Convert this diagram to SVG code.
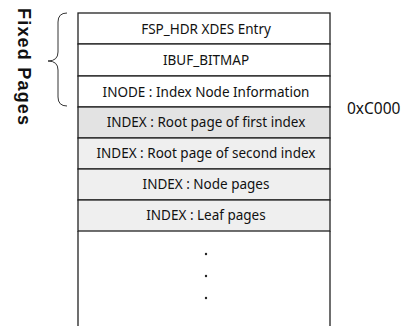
<svg xmlns="http://www.w3.org/2000/svg" width="408" height="326" viewBox="0 0 408 326">
  <style>
    .row { stroke: #222; stroke-width: 1.3; }
    .plain { fill: #ffffff; }
    .idx { fill: #efefef; }
    .idx1 { fill: #e3e3e3; }
    .lbl { font-family: "Noto Sans", "Open Sans", sans-serif; font-size: 13.5px; fill: #111; text-anchor: middle; }
    .side { font-family: "Liberation Sans", Arial, sans-serif; font-weight: bold; font-size: 18px; letter-spacing: 1.2px; fill: #111; }
  </style>
  <rect x="0" y="0" width="408" height="326" fill="#ffffff"/>

  <!-- page stack -->
  <g id="fsp_hdr">
    <rect class="row plain" x="78" y="13" width="252" height="31"/>
    <text class="lbl" x="206" y="34">FSP_HDR XDES Entry</text>
  </g>
  <g id="ibuf_bitmap">
    <rect class="row plain" x="78" y="44" width="252" height="32"/>
    <text class="lbl" x="206" y="65">IBUF_BITMAP</text>
  </g>
  <g id="inode">
    <rect class="row plain" x="78" y="76" width="252" height="31"/>
    <text class="lbl" x="206" y="97">INODE : Index Node Information</text>
  </g>
  <g id="index_root_first">
    <rect class="row idx1" x="78" y="107" width="252" height="31"/>
    <text class="lbl" x="206" y="127">INDEX : Root page of first index</text>
  </g>
  <g id="index_root_second">
    <rect class="row idx" x="78" y="138" width="252" height="31"/>
    <text class="lbl" x="206" y="158">INDEX : Root page of second index</text>
  </g>
  <g id="index_node">
    <rect class="row idx" x="78" y="169" width="252" height="31"/>
    <text class="lbl" x="206" y="189">INDEX : Node pages</text>
  </g>
  <g id="index_leaf">
    <rect class="row idx" x="78" y="200" width="252" height="31"/>
    <text class="lbl" x="206" y="220">INDEX : Leaf pages</text>
  </g>
  <g id="remaining">
    <path class="row" fill="none" d="M78,231 V330 M330,231 V330"/>
    <circle cx="206" cy="254" r="1.2" fill="#222"/>
    <circle cx="206" cy="276" r="1.2" fill="#222"/>
    <circle cx="206" cy="298" r="1.2" fill="#222"/>
  </g>

  <!-- fixed pages brace -->
  <g id="connectors">
    <path d="M67,13 Q58,13 58,22 V52 Q58,61 48,61 Q58,61 58,70 V97 Q58,106 67,106" fill="none" stroke="#333" stroke-width="1"/>
  </g>
  <g id="fixed_pages">
    <text class="side" transform="translate(18,8) rotate(90)">Fixed Pages</text>
  </g>
  <g id="offset">
    <text x="347" y="114" font-family="Noto Sans, Open Sans, sans-serif" font-size="15.5px" fill="#111">0xC000</text>
  </g>
</svg>
